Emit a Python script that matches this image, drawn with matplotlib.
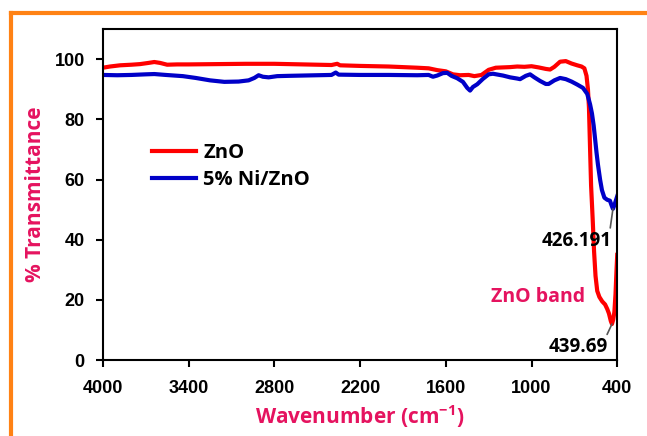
import matplotlib
matplotlib.use("Agg")
import matplotlib.pyplot as plt
from matplotlib.lines import Line2D

# ZnO spectrum
wn_zno = [4000, 3950, 3880, 3800, 3740, 3680, 3640, 3600, 3550, 3480, 3400, 3200,
          3000, 2800, 2600, 2400, 2360, 2340, 2200, 2000, 1800, 1720, 1660, 1600,
          1550, 1500, 1440, 1400, 1350, 1300, 1250, 1150, 1100, 1050, 1000, 950,
          900, 870, 840, 800, 760, 720, 680, 650, 630, 615, 605, 598, 590, 583,
          572, 562, 552, 540, 525, 505, 485, 470, 458, 445, 437, 428, 420, 412,
          405, 400]
t_zno = [97.2, 97.6, 98.0, 98.2, 98.4, 98.8, 99.1, 98.8, 98.2, 98.3, 98.3, 98.4,
         98.5, 98.5, 98.3, 98.1, 98.5, 98.0, 97.8, 97.6, 97.2, 97.0, 96.4, 96.0,
         95.0, 94.7, 94.8, 94.4, 94.8, 96.5, 97.2, 97.4, 97.6, 97.5, 97.7, 97.3,
         96.8, 96.6, 97.5, 99.2, 99.4, 98.6, 98.0, 97.6, 97.0, 94.5, 90.0, 84.0,
         70.0, 58.0, 47.0, 36.0, 28.0, 23.0, 21.0, 19.5, 18.5, 17.0, 15.5, 13.0,
         12.0, 13.5, 16.0, 22.0, 30.0, 35.0]

# 5% Ni/ZnO spectrum
wn_ni = [4000, 3900, 3800, 3700, 3640, 3560, 3500, 3440, 3350, 3250, 3150, 3050,
         2980, 2940, 2910, 2880, 2840, 2780, 2700, 2600, 2500, 2400, 2370, 2350,
         2200, 2000, 1800, 1720, 1690, 1660, 1620, 1590, 1560, 1520, 1480, 1450,
         1430, 1410, 1380, 1340, 1300, 1270, 1200, 1150, 1100, 1080, 1040, 1010,
         980, 940, 900, 880, 840, 800, 760, 720, 680, 640, 610, 590, 577, 565,
         556, 545, 535, 520, 507, 490, 470, 451, 440, 430, 420, 410, 400]
t_ni = [94.8, 94.7, 94.8, 95.0, 95.1, 94.8, 94.6, 94.4, 93.8, 93.0, 92.5, 92.6,
        93.0, 93.8, 94.7, 94.2, 94.0, 94.4, 94.5, 94.6, 94.7, 94.8, 95.6, 94.9,
        94.8, 94.8, 94.7, 94.8, 94.2, 94.6, 95.4, 95.5, 94.5, 93.7, 92.5, 90.5,
        89.6, 90.8, 91.7, 93.5, 95.0, 95.2, 94.6, 94.0, 93.6, 93.4, 94.5, 95.0,
        94.0, 92.8, 91.8, 91.8, 93.0, 93.8, 93.4, 92.6, 91.6, 90.5, 88.5, 85.0,
        82.0, 78.0, 74.0, 69.0, 65.0, 60.0, 56.5, 54.0, 53.3, 53.0, 51.5, 50.3,
        51.5, 53.0, 54.5]

x_ticks = [4000, 3400, 2800, 2200, 1600, 1000, 400]
y_ticks = [0, 20, 40, 60, 80, 100]

plt.rcParams["mathtext.fontset"] = "custom"
plt.rcParams["mathtext.rm"] = "Open Sans:bold"
plt.rcParams["mathtext.it"] = "Open Sans:bold"
plt.rcParams["mathtext.bf"] = "Open Sans:bold"

PINK = "#E5135F"
tick_font = {"family": "Liberation Sans", "weight": "bold", "size": 13}
label_font = {"family": "Open Sans", "weight": "bold", "size": 15}

fig = plt.figure(figsize=(6.47, 4.36), dpi=100)
ax = fig.add_axes([0.159, 0.174, 0.795, 0.759])

ax.plot(wn_zno, t_zno, color="#FF0000", lw=3, label="ZnO")
ax.plot(wn_ni, t_ni, color="#0000C8", lw=3, label="5% Ni/ZnO")

ax.set_xlim(4000, 400)
ax.set_ylim(0, 110)
ax.set_xticks(x_ticks)
ax.set_yticks(y_ticks)
ax.set_xticklabels([str(v) for v in x_ticks], fontdict=tick_font)
ax.set_yticklabels([str(v) for v in y_ticks], fontdict=tick_font)
ax.tick_params(axis="x", direction="out", length=5, width=1.5, pad=9)
ax.tick_params(axis="y", direction="out", length=5, width=1.5, pad=8)
for s in ax.spines.values():
    s.set_linewidth(1.5)
    s.set_color("black")

ax.set_xlabel(r"Wavenumber (cm$^{-1}$)", color=PINK, labelpad=5, **label_font)
ax.set_ylabel("% Transmittance", color=PINK, labelpad=6, **label_font)

leg = ax.legend(loc="upper left", bbox_to_anchor=(0.06, 0.71), frameon=False,
                handlelength=2.2, handletextpad=0.35, labelspacing=0.35,
                prop={"family": "Open Sans", "weight": "bold", "size": 14.5})

ann_font = {"family": "Open Sans", "weight": "bold", "size": 13.5}
ax.annotate("426.191", xy=(430, 50.3), xytext=(682, 39.7), ha="center", va="center",
            arrowprops=dict(arrowstyle="-", color="#555555", lw=1.2,
                            relpos=(0.97, 1.0), shrinkA=0, shrinkB=0),
            **ann_font)
ax.annotate("439.69", xy=(437, 12), xytext=(675, 4.3), ha="center", va="center",
            arrowprops=dict(arrowstyle="-", color="#555555", lw=1.2,
                            relpos=(0.97, 1.0), shrinkA=0, shrinkB=0),
            **ann_font)
ax.text(955, 20.9, "ZnO band", color=PINK, ha="center", va="center",
        family="Open Sans", weight="bold", size=14)

# orange frame on top and left edges
orange = "#FF8214"
fig.add_artist(Line2D([0.017, 1.0], [0.970, 0.970], color=orange, lw=3,
                      transform=fig.transFigure))
fig.add_artist(Line2D([0.017, 0.017], [0.0, 0.970], color=orange, lw=3,
                      transform=fig.transFigure))

fig.savefig("out.png", dpi=100)
